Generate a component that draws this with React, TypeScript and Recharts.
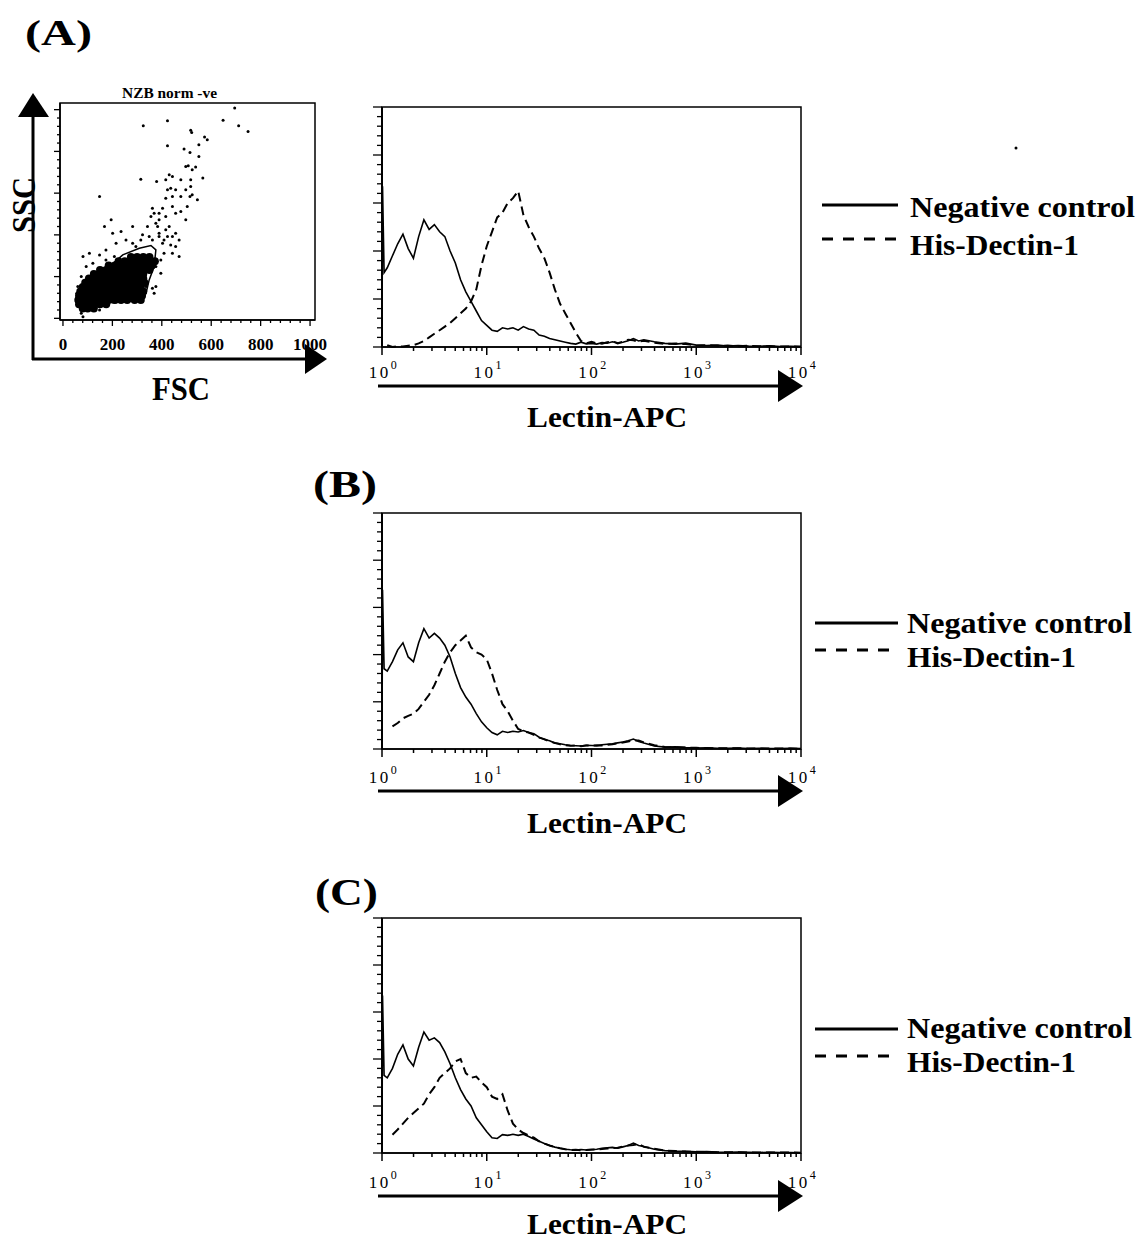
import {
  Line,
  LineChart,
  ReferenceArea,
  Scatter,
  ScatterChart,
  XAxis,
  YAxis,
} from "recharts";

const SERIF = "'Liberation Serif', 'Times New Roman', serif";
const INK = "#000";

// log-decade position of each histogram bin (0 = 10^0 ... 4 = 10^4)
const decadeBins = [
  0, 0.005, 0.02, 0.05, 0.1, 0.15, 0.2, 0.25, 0.3, 0.35,
  0.4, 0.45, 0.5, 0.55, 0.6, 0.65, 0.7, 0.75, 0.8, 0.85,
  0.9, 0.95, 1, 1.05, 1.1, 1.15, 1.2, 1.25, 1.3, 1.35,
  1.4, 1.45, 1.5, 1.55, 1.6, 1.65, 1.7, 1.75, 1.8, 1.85,
  1.9, 1.95, 2, 2.05, 2.1, 2.15, 2.2, 2.25, 2.3, 2.35,
  2.4, 2.45, 2.5, 2.6, 2.7, 2.8, 2.9, 3, 3.1, 3.2,
  3.3, 3.4, 3.5, 3.6, 3.7, 3.8, 3.9, 4,
];

// panel A
const negativeA = [
  0, 67, 31, 33, 38, 43, 47, 41, 37, 46,
  53, 49, 51, 48, 46, 40, 35, 28, 23, 19,
  15, 11, 9, 7, 6.5, 8, 7.5, 8, 7, 8.5,
  7.5, 7, 5, 4.5, 3.5, 3, 2.5, 2, 1.5, 1.2,
  2, 1.3, 1.5, 1.2, 1.8, 1.6, 2.2, 1.8, 2, 2.6,
  3.5, 2.5, 3, 2.2, 1.5, 1.2, 1.6, 0.8, 0.6, 0.8,
  0.4, 0.6, 0.4, 0.3, 0.5, 0.2, 0.3, 0.2,
];
const dectinA = [
  null, null, null, 0.8, 0, 0.3, 0.2, 0.5, 0.8, 1.5,
  2.5, 4, 5.5, 7, 8.5, 10, 12, 14, 16, 19,
  24, 34, 42, 48, 54, 56, 60, 62, 65, 55,
  50, 46, 41, 37, 31, 24, 18, 14, 10, 6,
  2.5, 1.5, 2.2, 1.5, 1.4, 2, 2.4, 1.5, 2.2, 3,
  2.8, 2.2, 2.6, 1.8, 1.3, 1.5, 1.2, 0.6, 0.8, 0.5,
  0.6, 0.3, 0.5, 0.3, 0.3, 0.2, 0.2, 0.1,
];

// panel B
const negativeB = [
  0, 67.5, 34, 33, 37, 42, 45, 39, 37, 45,
  51, 47, 49, 47, 44, 39, 32, 26, 22, 19,
  15, 11.5, 9, 7, 6, 7.5, 7, 7.5, 7.2, 7.8,
  7, 6.5, 5, 4, 3.5, 2.5, 2.2, 1.8, 1.5, 1.4,
  1.3, 1.6, 1.5, 1.4, 1.8, 2, 2.2, 2.6, 3, 3.5,
  4.2, 3.2, 2.5, 1.3, 0.8, 0.9, 0.6, 0.4, 0.5, 0.3,
  0.3, 0.4, 0.2, 0.3, 0.2, 0.2, 0.3, 0.2,
];
const dectinB = [
  null, null, null, null, 9.6, 11, 13, 14, 15, 17,
  20, 23, 27, 32, 37, 41, 44, 46, 48, 43,
  41, 40, 38, 32, 25, 19, 16, 12, 8.5, 7.5,
  7, 6, 4.8, 4.2, 3.2, 2.6, 2, 1.6, 1.4, 1.5,
  1.2, 1.5, 1.4, 1.6, 1.5, 1.8, 2, 2.4, 2.8, 3.2,
  3.6, 3.6, 2.8, 1.6, 0.9, 0.7, 0.6, 0.5, 0.4, 0.3,
  0.3, 0.3, 0.2, 0.2, 0.2, 0.2, 0.2, 0.1,
];

// panel C
const negativeC = [
  0, 67, 33, 32, 36, 42, 46, 40, 37, 45,
  51.5, 48, 49, 47, 43, 38, 32, 27, 23, 20,
  15, 12, 9, 6.5, 6.2, 7.8, 7.5, 8, 7.5, 8,
  7, 6, 5, 4, 3.2, 2.5, 2, 1.6, 1.4, 1.3,
  1.5, 1.3, 1.4, 1.6, 2, 2.2, 2.4, 2, 2.6, 3.2,
  4.2, 3.2, 2.8, 1.6, 1, 0.8, 0.7, 0.5, 0.6, 0.4,
  0.3, 0.4, 0.3, 0.2, 0.3, 0.2, 0.2, 0.1,
];
const dectinC = [
  null, null, null, null, 7.8, 10, 12.5, 15, 17, 19,
  21, 25, 28, 32, 34, 36, 39, 40, 34, 32,
  32.5, 30, 28, 24, 23, 25, 18, 12.5, 10, 8.5,
  7.5, 6.5, 5, 4, 3.2, 2.5, 2, 1.6, 1.3, 1.4,
  1.2, 1.3, 1.5, 1.4, 1.7, 1.9, 2.1, 2.2, 2.8, 3.2,
  3.4, 3.8, 2.6, 1.8, 1, 0.8, 0.6, 0.5, 0.4, 0.3,
  0.3, 0.3, 0.2, 0.2, 0.2, 0.2, 0.2, 0.1,
];

const decadeTicks = [0, 1, 2, 3, 4];
const logMinors = [0.301, 0.477, 0.602, 0.699, 0.778, 0.845, 0.903, 0.954];
const histXTicks = decadeTicks.flatMap((d) =>
  d < 4 ? [d, ...logMinors.map((m) => d + m)] : [d]
);
const histYTicks = [
  0, 4, 8, 12, 16, 20, 24, 28, 32, 36, 40, 44, 48, 52, 56, 60, 64, 68, 72,
  76, 80, 84, 88, 92, 96, 100,
];

// FSC / SSC scatter (NZB norm -ve)
const scatterTicks = [
  0, 40, 80, 120, 160, 200, 240, 280, 320, 360, 400, 440, 480, 520, 560, 600,
  640, 680, 720, 760, 800, 840, 880, 920, 960, 1000,
];

// dense core of the cloud: [FSC, SSC]
const denseCore: [number, number][] = [
  [80, 47], [100, 47], [125, 47],
  [65, 67], [85, 67], [105, 67], [130, 67], [150, 67], [175, 67],
  [62, 88], [80, 88], [100, 88], [120, 88], [140, 88], [160, 88], [185, 88], [210, 88], [235, 88], [260, 88], [290, 88], [315, 88],
  [65, 108], [85, 108], [105, 108], [125, 108], [150, 108], [170, 108], [195, 108], [220, 108], [245, 108], [270, 108], [295, 108], [320, 108],
  [70, 129], [90, 129], [110, 129], [135, 129], [155, 129], [180, 129], [200, 129], [225, 129], [250, 129], [275, 129], [300, 129], [325, 129],
  [80, 150], [100, 150], [120, 150], [140, 150], [165, 150], [190, 150], [215, 150], [240, 150], [265, 150], [290, 150], [315, 150],
  [90, 170], [110, 170], [130, 170], [155, 170], [180, 170], [205, 170], [230, 170], [255, 170], [280, 170], [305, 170], [330, 170],
  [105, 191], [125, 191], [150, 191], [175, 191], [200, 191], [225, 191], [250, 191], [275, 191], [300, 191], [325, 191],
  [125, 212], [150, 212], [175, 212], [200, 212], [225, 212], [250, 212], [275, 212], [300, 212], [325, 212],
  [150, 232], [175, 232], [200, 232], [225, 232], [250, 232], [275, 232], [300, 232], [325, 232], [350, 232],
  [185, 253], [210, 253], [235, 253], [260, 253], [285, 253], [310, 253], [335, 253], [360, 253],
  [225, 273], [250, 273], [275, 273], [300, 273], [325, 273], [350, 273], [372, 273],
  [275, 294], [300, 294], [325, 294], [350, 294],
];

// individual events outside the core: [FSC, SSC]
const sparseEvents: [number, number][] = [
  [325, 923], [423, 947], [517, 901], [521, 891], [573, 869], [584, 856],
  [648, 949], [695, 1008], [711, 923], [749, 896], [423, 827], [490, 811],
  [550, 832], [514, 795], [550, 776], [507, 731], [537, 725], [566, 672],
  [315, 667], [379, 656], [416, 664], [430, 688], [443, 680], [423, 616],
  [436, 624], [517, 632], [523, 592], [514, 584], [544, 568], [443, 584],
  [416, 576], [477, 584], [148, 584], [362, 528], [369, 504], [403, 528],
  [416, 488], [456, 504], [477, 512], [503, 536], [497, 472], [376, 456],
  [389, 472], [342, 440], [282, 440], [195, 472], [168, 440], [235, 416],
  [201, 408], [322, 400], [416, 424], [430, 440], [443, 392], [470, 376],
  [456, 344], [443, 312], [470, 296], [362, 376], [389, 392], [403, 360],
  [107, 312], [148, 304], [174, 328], [215, 360], [255, 376], [282, 360],
  [174, 280], [208, 296], [228, 272], [295, 344], [315, 376], [349, 392],
  [389, 408], [409, 376], [423, 392], [436, 352], [456, 408], [383, 440],
  [356, 488], [389, 504], [443, 536], [497, 616], [517, 664], [523, 712],
  [497, 728], [477, 664], [456, 616], [81, 296], [94, 248], [74, 200],
  [60, 152], [121, 264], [396, 280], [409, 312], [376, 248], [396, 216],
  [376, 152], [362, 144], [369, 120], [336, 152], [74, 24], [67, 80],
  [56, 120], [81, 8], [107, 40], [148, 40],
];

// outer density contour: [FSC, SSC]
const outerContour: [number, number][] = [
  [148, 184], [188, 248], [242, 304], [309, 336], [356, 349], [376, 328],
  [369, 248], [349, 184], [336, 120], [309, 88], [255, 80], [201, 75],
  [148, 88], [134, 136], [148, 184],
];

const toPoints = (rows: [number, number][]) =>
  rows.map(([fsc, ssc]) => ({ fsc, ssc }));

function LogTick(props: any) {
  const { x, y, payload, labelDy } = props;
  const v = payload.value;
  const major = Math.abs(v - Math.round(v)) < 1e-6;
  return (
    <g>
      <line x1={x} x2={x} y1={y} y2={y + (major ? 8 : 4)} stroke={INK} strokeWidth={1.5} />
      {major && (
        <text
          x={x + 2}
          y={y + labelDy}
          textAnchor="middle"
          fontFamily={SERIF}
          fontSize={17}
          letterSpacing={2.5}
          fill={INK}
        >
          10
          <tspan dy={-9} fontSize={12}>
            {Math.round(v)}
          </tspan>
        </text>
      )}
    </g>
  );
}

function HistYTick(props: any) {
  const { x, y, payload } = props;
  const major = payload.value % 20 === 0;
  return <line x1={x} x2={x - (major ? 9 : 5)} y1={y} y2={y} stroke={INK} strokeWidth={1.3} />;
}

function ScatterXTick(props: any) {
  const { x, y, payload } = props;
  const major = payload.value % 200 === 0;
  return (
    <g>
      <line x1={x} x2={x} y1={y} y2={y + (major ? 6 : 3)} stroke={INK} strokeWidth={1.3} />
      {major && (
        <text x={x} y={y + 30} textAnchor="middle" fontFamily={SERIF} fontWeight="bold" fontSize={17} fill={INK}>
          {payload.value}
        </text>
      )}
    </g>
  );
}

function ScatterYTick(props: any) {
  const { x, y, payload } = props;
  const major = payload.value % 200 === 0;
  return <line x1={x} x2={x - (major ? 6 : 3)} y1={y} y2={y} stroke={INK} strokeWidth={1.3} />;
}

interface HistogramProps {
  top: number;
  bottom: number;
  negative: (number | null)[];
  dectin: (number | null)[];
  labelDy: number;
}

function Histogram({ top, bottom, negative, dectin, labelDy }: HistogramProps) {
  const data = decadeBins.map((x, i) => ({ x, neg: negative[i], his: dectin[i] }));
  const plotH = bottom - top;
  return (
    <div style={{ position: "absolute", left: 340, top: top - 10 }}>
      <LineChart
        width={480}
        height={plotH + 55}
        data={data}
        margin={{ top: 10, right: 19, bottom: 0, left: 0 }}
      >
        <XAxis
          dataKey="x"
          type="number"
          domain={[0, 4]}
          ticks={histXTicks}
          interval={0}
          height={45}
          tickSize={0}
          tickMargin={0}
          tickLine={false}
          axisLine={{ stroke: INK, strokeWidth: 1.5 }}
          tick={(p: any) => <LogTick {...p} labelDy={labelDy} />}
        />
        <YAxis
          type="number"
          domain={[0, 100]}
          ticks={histYTicks}
          interval={0}
          width={42}
          tickSize={0}
          tickMargin={0}
          tickLine={false}
          axisLine={{ stroke: INK, strokeWidth: 2 }}
          tick={HistYTick}
        />
        <ReferenceArea x1={0} x2={4} y1={0} y2={100} fill="none" stroke={INK} strokeWidth={1.5} />
        <Line
          dataKey="neg"
          type="linear"
          stroke={INK}
          strokeWidth={1.6}
          dot={false}
          activeDot={false}
          isAnimationActive={false}
        />
        <Line
          dataKey="his"
          type="linear"
          stroke={INK}
          strokeWidth={2}
          strokeDasharray="9 5"
          dot={false}
          activeDot={false}
          isAnimationActive={false}
        />
      </LineChart>
    </div>
  );
}

function Legend({ solidY, dashedY, textX, negY, hisY, lineX1 }: any) {
  return (
    <g>
      <line x1={lineX1} x2={898} y1={solidY} y2={solidY} stroke={INK} strokeWidth={3} />
      <line x1={lineX1} x2={898} y1={dashedY} y2={dashedY} stroke={INK} strokeWidth={3} strokeDasharray="11 10" />
      <text x={textX} y={negY} fontFamily={SERIF} fontWeight="bold" fontSize={29} textLength={225} lengthAdjust="spacingAndGlyphs" fill={INK}>
        Negative control
      </text>
      <text x={textX} y={hisY} fontFamily={SERIF} fontWeight="bold" fontSize={29} textLength={169} lengthAdjust="spacingAndGlyphs" fill={INK}>
        His-Dectin-1
      </text>
    </g>
  );
}

function AxisArrow({ y }: { y: number }) {
  return (
    <g>
      <line x1={378} x2={782} y1={y} y2={y} stroke={INK} strokeWidth={3} />
      <polygon points={`778,${y - 16} 778,${y + 16} 803,${y}`} fill={INK} />
    </g>
  );
}

function BoldLabel({ x, y, text, size, length }: any) {
  return (
    <text x={x} y={y} fontFamily={SERIF} fontWeight="bold" fontSize={size} textLength={length} lengthAdjust="spacingAndGlyphs" fill={INK}>
      {text}
    </text>
  );
}

export default function App() {
  return (
    <div
      style={{
        position: "absolute",
        left: 0,
        top: 0,
        width: 1143,
        height: 1242,
        background: "#fff",
        overflow: "hidden",
      }}
    >
      {/* (A) left: FSC vs SSC */}
      <div style={{ position: "absolute", left: 0, top: 0 }}>
        <ScatterChart width={330} height={360} margin={{ top: 103, right: 15, bottom: 0, left: 0 }}>
          <XAxis
            dataKey="fsc"
            type="number"
            domain={[-12, 1020]}
            ticks={scatterTicks}
            interval={0}
            height={40}
            tickSize={0}
            tickMargin={0}
            tickLine={false}
            axisLine={{ stroke: INK, strokeWidth: 1.5 }}
            tick={ScatterXTick}
          />
          <YAxis
            dataKey="ssc"
            type="number"
            domain={[-8, 1032]}
            ticks={scatterTicks}
            interval={0}
            width={60}
            tickSize={0}
            tickMargin={0}
            tickLine={false}
            axisLine={{ stroke: INK, strokeWidth: 1.5 }}
            tick={ScatterYTick}
          />
          <ReferenceArea x1={-12} x2={1020} y1={-8} y2={1032} fill="none" stroke={INK} strokeWidth={1.5} />
          <Scatter
            data={toPoints(denseCore)}
            isAnimationActive={false}
            shape={(p: any) => <circle cx={p.cx} cy={p.cy} r={4} fill={INK} />}
          />
          <Scatter
            data={toPoints(sparseEvents)}
            isAnimationActive={false}
            shape={(p: any) => <circle cx={p.cx} cy={p.cy} r={1.5} fill={INK} />}
          />
          <Scatter
            data={toPoints(outerContour)}
            isAnimationActive={false}
            line={{ stroke: INK, strokeWidth: 1.5 }}
            shape={() => <g />}
          />
        </ScatterChart>
      </div>

      <Histogram top={107} bottom={347} negative={negativeA} dectin={dectinA} labelDy={31} />
      <Histogram top={513} bottom={749} negative={negativeB} dectin={dectinB} labelDy={34} />
      <Histogram top={918} bottom={1153} negative={negativeC} dectin={dectinC} labelDy={35} />

      <svg
        width={1143}
        height={1242}
        style={{ position: "absolute", left: 0, top: 0, pointerEvents: "none" }}
      >
        <BoldLabel x={25} y={45} text="(A)" size={35} length={67} />
        <BoldLabel x={313} y={497} text="(B)" size={38} length={64} />
        <BoldLabel x={315} y={905} text="(C)" size={38} length={63} />

        <BoldLabel x={122} y={98} text="NZB norm -ve" size={14} length={95} />
        <g transform="translate(35,205) rotate(-90)">
          <text x={0} y={0} textAnchor="middle" fontFamily={SERIF} fontWeight="bold" fontSize={34} textLength={56} lengthAdjust="spacingAndGlyphs" fill={INK}>
            SSC
          </text>
        </g>
        <BoldLabel x={152} y={400} text="FSC" size={34} length={58} />
        <line x1={33} x2={33} y1={112} y2={360} stroke={INK} strokeWidth={3} />
        <polygon points="33,93 18,117 49,117" fill={INK} />
        <line x1={32} x2={306} y1={359} y2={359} stroke={INK} strokeWidth={3} />
        <polygon points="305,344 305,374 327,359" fill={INK} />

        <AxisArrow y={386} />
        <AxisArrow y={791} />
        <AxisArrow y={1196} />
        <BoldLabel x={527} y={427} text="Lectin-APC" size={30} length={160} />
        <BoldLabel x={527} y={833} text="Lectin-APC" size={30} length={160} />
        <BoldLabel x={527} y={1234} text="Lectin-APC" size={29} length={160} />

        <Legend lineX1={822} solidY={205} dashedY={239} textX={910} negY={217} hisY={255} />
        <Legend lineX1={815} solidY={623} dashedY={650} textX={907} negY={633} hisY={667} />
        <Legend lineX1={815} solidY={1029} dashedY={1056} textX={907} negY={1038} hisY={1072} />
        <circle cx={1016} cy={148} r={1.5} fill={INK} />
      </svg>
    </div>
  );
}
